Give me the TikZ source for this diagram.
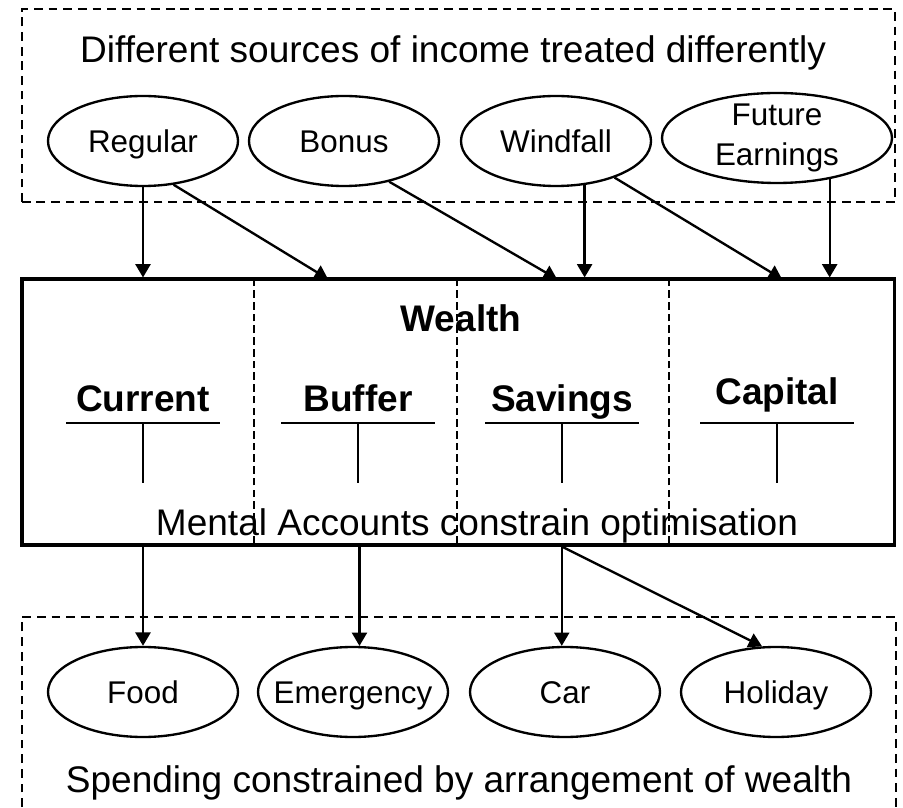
\documentclass[tikz,border=0pt]{standalone}
\usepackage{fontspec}
\setmainfont{Liberation Sans}
\usepackage{xcolor}
\usepackage{tikz}
\usetikzlibrary{shapes.geometric,arrows.meta}
\definecolor{MAInk}{HTML}{000000}

\begin{document}
\begin{tikzpicture}[x=0.03cm,y=0.03cm,
  bigtext/.style={font=\fontsize{31.6}{36}\selectfont,anchor=base,inner sep=0pt},
  acct/.style={font=\fontsize{31.6}{36}\selectfont\bfseries,anchor=base,inner sep=0pt},
  pot/.style={ellipse,draw=MAInk,line width=2pt,minimum width=5.7cm,minimum height=2.7cm,inner sep=-1cm,align=center,text height=0.68cm,text depth=0pt,font=\fontsize{26.8}{34}\selectfont},
  flow/.style={draw=MAInk,line width=2pt,-{Triangle[length=0.4cm,width=0.45cm]}},
  groupbox/.style={draw=MAInk,line width=2.2pt,dash pattern=on 7.5pt off 5pt},
  split/.style={draw=MAInk,line width=1.8pt,dash pattern=on 6.5pt off 3.5pt},
  tline/.style={draw=MAInk,line width=2.2pt}]
\path[use as bounding box] (0,0) rectangle (903,807);
\draw[groupbox] (22,605) rectangle (895,798);
\node[bigtext] (sources) at (453,744) {Different sources of income treated differently};
\node[pot] (regular) at (143,666) {Regular};
\node[pot] (bonus) at (344,666) {Bonus};
\node[pot] (windfall) at (556,666) {Windfall};
\node[pot,minimum width=6.9cm,text height=,text depth=] (future) at (777,669) {Future\\Earnings};

\node[draw=MAInk,line width=2.6pt,minimum width=26.16cm,minimum height=7.98cm] (wealth) at (458,395) {};
\foreach \x in {254,457,669}
  \draw[split] (\x,263) -- (\x,527);
\node[acct] (wealthlabel) at (461,475) {Wealth};
\foreach \x/\lab/\y in {143/Current/395,358/Buffer/395,562/Savings/395,777/Capital/402} {
  \node[acct] (acct-\lab) at (\x,\y) {\lab};
  \draw[tline] (\x-77,384) -- (\x+77,384) (\x,384) -- (\x,324);
}
\node[bigtext] (mental) at (477,272) {Mental Accounts constrain optimisation};

\draw[groupbox] (22,0) -- (22,190) -- (896,190) -- (896,0);
\node[pot] (food) at (143,115) {Food};
\node[pot] (emergency) at (353,115) {Emergency};
\node[pot] (car) at (565,115) {Car};
\node[pot] (holiday) at (776,115) {Holiday};
\node[bigtext] (spending) at (459,15) {Spending constrained by arrangement of wealth};

\coordinate (in-buf) at (328,528);
\coordinate (in-sav) at (557,528);
\coordinate (in-cap) at (782,528);
\coordinate (out-sav) at (car.94 |- wealth.south);
\draw[flow] (regular.south) -- (regular.south |- wealth.north);
\draw[flow] (regular.-55) -- (in-buf);
\draw[flow] (bonus.-42) -- (in-sav);
\draw[flow] (windfall.-57) -- (windfall.-57 |- wealth.north);
\draw[flow] (windfall.-32) -- (in-cap);
\draw[flow] (future.-38) -- (future.-38 |- wealth.north);
\draw[flow] (food.north |- wealth.south) -- (food.north);
\draw[flow] (emergency.82 |- wealth.south) -- (emergency.82);
\draw[flow] (out-sav) -- (car.94);
\draw[flow] (out-sav) -- (holiday.107);
\end{tikzpicture}
\end{document}
